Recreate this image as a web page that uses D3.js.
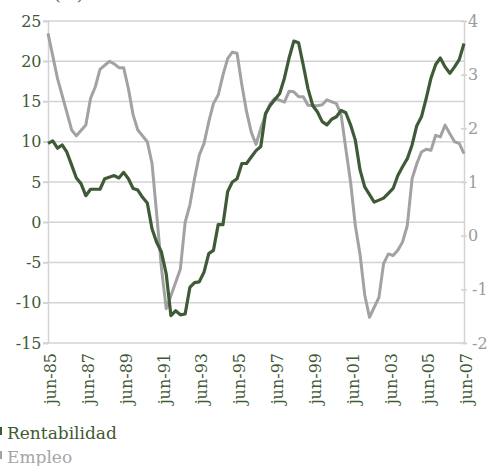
<!DOCTYPE html>
<html>
<head>
<meta charset="utf-8">
<script src="https://cdn.jsdelivr.net/npm/d3@7"></script>
<style>
  body { margin: 0; background: #fff; }
  svg { display: block; font-family: "DejaVu Serif", serif; }
</style>
</head>
<body>
<div id="chart"></div>
<script>
// Rentabilidad (left axis, %), quarterly-ish
const rentabilidad = [
  ["1985-06", 9.8], ["1985-09", 10.1], ["1985-12", 9.2], ["1986-03", 9.6],
  ["1986-06", 8.7], ["1986-09", 7.1], ["1986-12", 5.5], ["1987-03", 4.8],
  ["1987-06", 3.3], ["1987-09", 4.1], ["1988-03", 4.1], ["1988-06", 5.4],
  ["1988-12", 5.8], ["1989-03", 5.5], ["1989-06", 6.2], ["1989-09", 5.4],
  ["1989-12", 4.2], ["1990-03", 4.0], ["1990-06", 3.1], ["1990-09", 2.4],
  ["1990-12", -0.8], ["1991-03", -2.5], ["1991-06", -3.7], ["1991-09", -6.4],
  ["1991-12", -11.6], ["1992-03", -11.0], ["1992-06", -11.5], ["1992-09", -11.4],
  ["1992-12", -8.1], ["1993-03", -7.5], ["1993-06", -7.4], ["1993-09", -6.2],
  ["1993-12", -3.9], ["1994-03", -3.5], ["1994-06", -0.3], ["1994-09", -0.3],
  ["1994-12", 3.8], ["1995-03", 5.0], ["1995-06", 5.4], ["1995-09", 7.3],
  ["1995-12", 7.3], ["1996-03", 8.1], ["1996-06", 8.9], ["1996-09", 9.4],
  ["1996-12", 13.5], ["1997-03", 14.5], ["1997-09", 16.0], ["1997-12", 17.9],
  ["1998-03", 20.4], ["1998-06", 22.5], ["1998-09", 22.3], ["1998-12", 19.5],
  ["1999-03", 16.6], ["1999-06", 14.5], ["1999-09", 13.7], ["1999-12", 12.5],
  ["2000-03", 12.1], ["2000-06", 12.8], ["2000-09", 13.1], ["2000-12", 13.9],
  ["2001-03", 13.6], ["2001-06", 12.1], ["2001-09", 10.2], ["2001-12", 6.5],
  ["2002-03", 4.4], ["2002-09", 2.5], ["2003-03", 3.0], ["2003-06", 3.6],
  ["2003-09", 4.2], ["2003-12", 5.8], ["2004-03", 6.9], ["2004-06", 7.9],
  ["2004-09", 9.6], ["2004-12", 12.0], ["2005-03", 13.1], ["2005-06", 15.4],
  ["2005-09", 17.9], ["2005-12", 19.6], ["2006-03", 20.4], ["2006-06", 19.3],
  ["2006-09", 18.5], ["2006-12", 19.3], ["2007-03", 20.2], ["2007-06", 22.2]
];

// Empleo (right axis)
const empleo = [
  ["1985-06", 3.77], ["1985-12", 2.93], ["1986-09", 1.97], ["1986-12", 1.86],
  ["1987-06", 2.06], ["1987-09", 2.56], ["1987-12", 2.77], ["1988-03", 3.1],
  ["1988-09", 3.25], ["1988-12", 3.2], ["1989-03", 3.13], ["1989-06", 3.13],
  ["1989-09", 2.74], ["1989-12", 2.25], ["1990-03", 1.97], ["1990-09", 1.75],
  ["1990-12", 1.35], ["1991-03", 0.4], ["1991-06", -0.6], ["1991-09", -1.36],
  ["1991-12", -1.12], ["1992-06", -0.62], ["1992-09", 0.25], ["1992-12", 0.57],
  ["1993-03", 1.06], ["1993-06", 1.5], ["1993-09", 1.72], ["1993-12", 2.12],
  ["1994-03", 2.46], ["1994-06", 2.62], ["1994-09", 2.99], ["1994-12", 3.3],
  ["1995-03", 3.42], ["1995-06", 3.4], ["1995-09", 2.81], ["1995-12", 2.31],
  ["1996-03", 1.93], ["1996-06", 1.7], ["1996-09", 2.0], ["1996-12", 2.25],
  ["1997-03", 2.46], ["1997-06", 2.56], ["1997-12", 2.49], ["1998-03", 2.69],
  ["1998-06", 2.68], ["1998-09", 2.59], ["1998-12", 2.59], ["1999-03", 2.43],
  ["1999-09", 2.42], ["1999-12", 2.44], ["2000-03", 2.53], ["2000-09", 2.46],
  ["2000-12", 2.25], ["2001-03", 1.62], ["2001-06", 1.0], ["2001-09", 0.19],
  ["2001-12", -0.35], ["2002-03", -1.1], ["2002-06", -1.52], ["2002-12", -1.15],
  ["2003-03", -0.52], ["2003-06", -0.34], ["2003-09", -0.37], ["2003-12", -0.27],
  ["2004-03", -0.12], ["2004-06", 0.19], ["2004-09", 1.06], ["2004-12", 1.34],
  ["2005-03", 1.56], ["2005-06", 1.61], ["2005-09", 1.59], ["2005-12", 1.87],
  ["2006-03", 1.84], ["2006-06", 2.06], ["2006-09", 1.9], ["2006-12", 1.75],
  ["2007-03", 1.72], ["2007-06", 1.53]
];

const leftTicks = [-15, -10, -5, 0, 5, 10, 15, 20, 25];
const rightTicks = [-2, -1, 0, 1, 2, 3, 4];
const xTickDates = ["1985-06", "1987-06", "1989-06", "1991-06", "1993-06", "1995-06",
  "1997-06", "1999-06", "2001-06", "2003-06", "2005-06", "2007-06"];
const seriesNames = ["Rentabilidad", "Empleo"];

const green = "#3f5a36";
const grey = "#a2a2a4";
const gridColor = "#d3d3d3";

const W = 491, H = 466;
const plot = { left: 48, right: 464, top: 21, bottom: 343 };

const parse = d3.timeParse("%Y-%m");
const spanishMonth = d => "jun-" + d3.timeFormat("%y")(d);
const plain = d => String(d); // hyphen minus, like the original

const x = d3.scaleTime()
  .domain([parse("1985-06"), parse("2007-06")])
  .range([plot.left, plot.right]);
const yL = d3.scaleLinear().domain([-15, 25]).range([plot.bottom, plot.top]);
const yR = d3.scaleLinear().domain([-2, 4]).range([plot.bottom, plot.top]);

const svg = d3.select("#chart").append("svg")
  .attr("width", W)
  .attr("height", H);

// title fragment at the very top, mostly cut off
svg.append("text")
  .attr("x", 54).attr("y", 0)
  .style("font-size", "17px")
  .style("fill", green)
  .text("(%)");

// horizontal gridlines
svg.append("g")
  .selectAll("line")
  .data(leftTicks)
  .join("line")
  .attr("x1", plot.left - 5)
  .attr("x2", plot.right)
  .attr("y1", d => yL(d))
  .attr("y2", d => yL(d))
  .attr("stroke", gridColor)
  .attr("stroke-width", 1.5);

// left axis
const gL = svg.append("g")
  .attr("transform", `translate(${plot.left},0)`)
  .call(d3.axisLeft(yL).tickValues(leftTicks).tickFormat(plain)
    .tickSize(5).tickPadding(1.5));
gL.select(".domain").attr("stroke", gridColor).attr("stroke-width", 1.5);
gL.selectAll(".tick line").attr("stroke", gridColor).attr("stroke-width", 1.5);
gL.selectAll("text")
  .style("font-family", "DejaVu Serif, serif")
  .style("font-size", "16px")
  .style("fill", green);

// right axis
const gR = svg.append("g")
  .attr("transform", `translate(${plot.right},0)`)
  .call(d3.axisRight(yR).tickValues(rightTicks).tickFormat(plain)
    .tickSize(3).tickPadding(1));
gR.select(".domain").attr("stroke", gridColor).attr("stroke-width", 1.5);
gR.selectAll(".tick line").attr("x1", -3).attr("stroke", gridColor).attr("stroke-width", 1.5);
gR.selectAll("text")
  .attr("dx", d => d < 0 ? 4 : 0)
  .style("font-family", "DejaVu Serif, serif")
  .style("font-size", "16px")
  .style("fill", "#9b9b9b");

// bottom axis, rotated labels
const gX = svg.append("g")
  .attr("transform", `translate(0,${plot.bottom})`)
  .call(d3.axisBottom(x)
    .tickValues(xTickDates.map(parse))
    .tickSize(0)
    .tickFormat(spanishMonth));
gX.select(".domain").remove();
gX.selectAll("text")
  .attr("transform", "rotate(-90)")
  .attr("x", -10)
  .attr("y", 0)
  .attr("dy", "0.48em")
  .attr("text-anchor", "end")
  .style("font-family", "DejaVu Serif, serif")
  .style("font-size", "16px")
  .style("fill", green);

// lines
const lineL = d3.line()
  .x(d => x(parse(d[0])))
  .y(d => yL(d[1]));
const lineR = d3.line()
  .x(d => x(parse(d[0])))
  .y(d => yR(d[1]));

svg.append("path")
  .datum(empleo)
  .attr("fill", "none")
  .attr("stroke", grey)
  .attr("stroke-width", 3)
  .attr("stroke-linejoin", "round")
  .attr("d", lineR);

svg.append("path")
  .datum(rentabilidad)
  .attr("fill", "none")
  .attr("stroke", green)
  .attr("stroke-width", 3.2)
  .attr("stroke-linejoin", "round")
  .attr("d", lineL);

// legend, marker mostly off the left edge
const legend = svg.append("g");
legend.selectAll("rect")
  .data(seriesNames)
  .join("rect")
  .attr("x", -8)
  .attr("y", (d, i) => 427 + i * 24)
  .attr("width", 10)
  .attr("height", 8)
  .attr("fill", (d, i) => i === 0 ? green : grey);
legend.selectAll("text")
  .data(seriesNames)
  .join("text")
  .attr("x", 7)
  .attr("y", (d, i) => 439 + i * 24)
  .style("font-size", "17px")
  .style("fill", (d, i) => i === 0 ? green : "#a5a5a7")
  .text(d => d);
</script>
</body>
</html>
